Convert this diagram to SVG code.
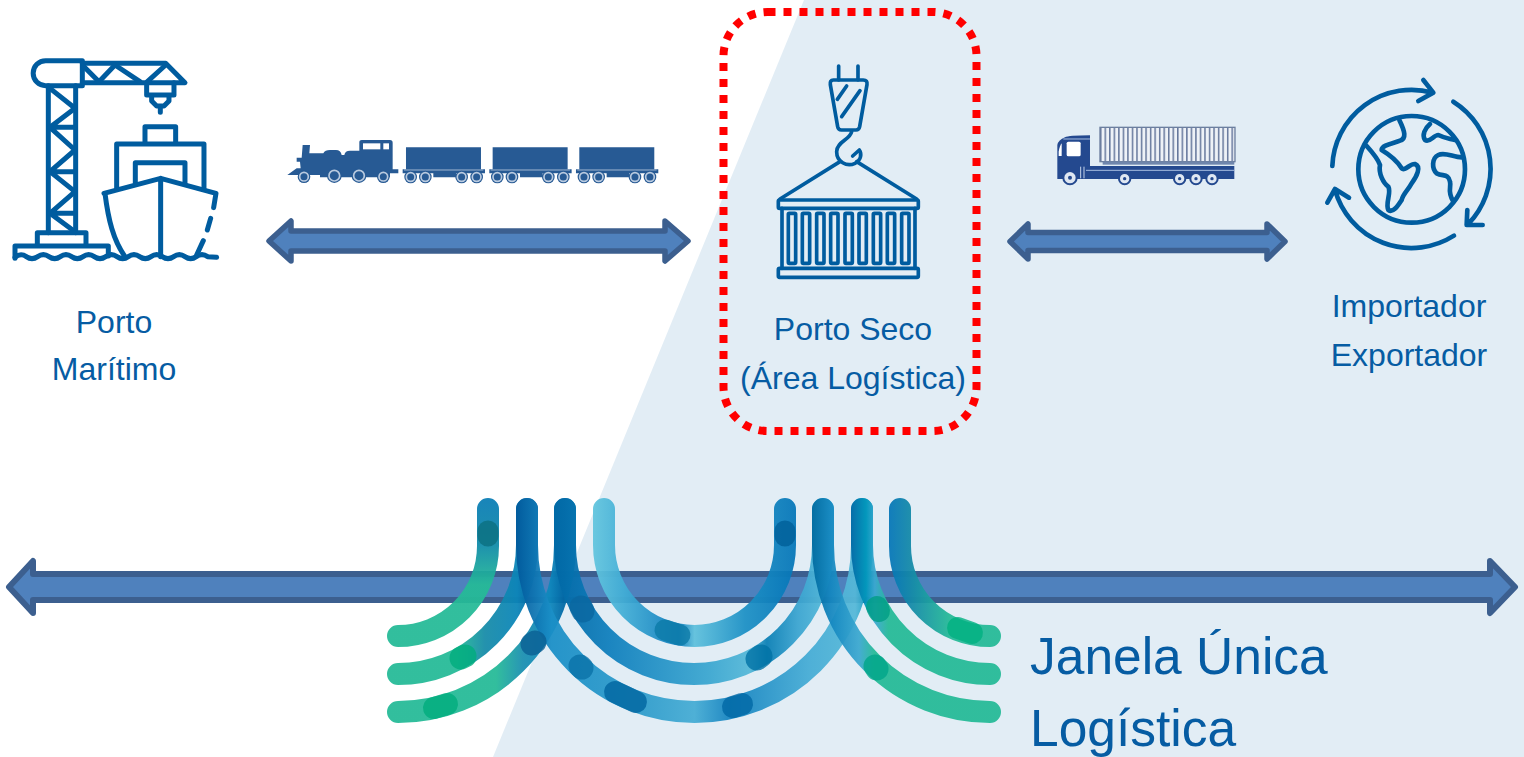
<svg xmlns="http://www.w3.org/2000/svg" width="1524" height="757" viewBox="0 0 1524 757">
<style>
.t{font-family:"Liberation Sans",Arial,sans-serif;fill:#065ca3;text-anchor:middle}
.ic{fill:none;stroke:#005c9f;stroke-linejoin:round;stroke-linecap:round}
.dbl{fill:#4f81bd;stroke:#3c5f8f;stroke-linejoin:round}
.rb{fill:none;stroke-width:22;stroke-linecap:round;opacity:.94}
.sp{fill:none;stroke-width:23;stroke-linecap:round;opacity:.8}
.tr{fill:#275a94}
.wh{fill:#275a94;stroke:#b9cadf;stroke-width:5}
.wo{fill:#275a94}
.wk{fill:#dfe7f2;stroke:#24498f;stroke-width:6}
</style>
<defs>
<linearGradient id="gA" gradientUnits="userSpaceOnUse" x1="0" y1="499" x2="0" y2="600"><stop offset="0" stop-color="#0a7db5"/><stop offset=".45" stop-color="#0f8aa8"/><stop offset=".85" stop-color="#25ba97"/></linearGradient>
<linearGradient id="gB" gradientUnits="userSpaceOnUse" x1="398" y1="0" x2="538" y2="0"><stop offset="0" stop-color="#25ba97"/><stop offset=".42" stop-color="#25ba97"/><stop offset=".62" stop-color="#168ba8"/><stop offset=".85" stop-color="#0a85b8"/><stop offset="1" stop-color="#00589b"/></linearGradient>
<linearGradient id="gC" gradientUnits="userSpaceOnUse" x1="398" y1="0" x2="576" y2="0"><stop offset="0" stop-color="#25ba97"/><stop offset=".55" stop-color="#25ba97"/><stop offset=".7" stop-color="#1a8fb0"/><stop offset=".85" stop-color="#0d88bd"/><stop offset=".93" stop-color="#0068a5"/><stop offset="1" stop-color="#0090b8"/></linearGradient>
<linearGradient id="gU1" gradientUnits="userSpaceOnUse" x1="516" y1="0" x2="873" y2="0"><stop offset="0" stop-color="#00589b"/><stop offset=".1" stop-color="#1a8fc7"/><stop offset=".35" stop-color="#2f9ccb"/><stop offset=".5" stop-color="#45acd4"/><stop offset=".6" stop-color="#1583c0"/><stop offset=".82" stop-color="#45acd5"/><stop offset=".95" stop-color="#55b8d8"/><stop offset="1" stop-color="#0090b8"/></linearGradient>
<linearGradient id="gU2" gradientUnits="userSpaceOnUse" x1="554" y1="0" x2="834" y2="0"><stop offset="0" stop-color="#0068a5"/><stop offset=".2" stop-color="#0f7fbd"/><stop offset=".55" stop-color="#3aa6d0"/><stop offset=".7" stop-color="#55b8d8"/><stop offset=".76" stop-color="#0a7fb5"/><stop offset=".87" stop-color="#3aa4d0"/><stop offset="1" stop-color="#5cc0dc"/></linearGradient>
<linearGradient id="gU3" gradientUnits="userSpaceOnUse" x1="593" y1="0" x2="796" y2="0"><stop offset="0" stop-color="#62c5de"/><stop offset=".15" stop-color="#42aed6"/><stop offset=".42" stop-color="#0f7dbd"/><stop offset=".5" stop-color="#5ec0dc"/><stop offset=".75" stop-color="#1c90c5"/><stop offset="1" stop-color="#0576b8"/></linearGradient>
<linearGradient id="gD" gradientUnits="userSpaceOnUse" x1="889" y1="0" x2="1000" y2="0"><stop offset="0" stop-color="#0576b8"/><stop offset=".2" stop-color="#148aa8"/><stop offset=".55" stop-color="#25ba97"/><stop offset="1" stop-color="#25ba97"/></linearGradient>
<linearGradient id="gE" gradientUnits="userSpaceOnUse" x1="851" y1="0" x2="1000" y2="0"><stop offset="0" stop-color="#0068a5"/><stop offset=".1" stop-color="#0096bb"/><stop offset=".16" stop-color="#3ba8d0"/><stop offset=".25" stop-color="#25ba97"/><stop offset="1" stop-color="#25ba97"/></linearGradient>
<linearGradient id="gF" gradientUnits="userSpaceOnUse" x1="812" y1="0" x2="1000" y2="0"><stop offset="0" stop-color="#006a9f"/><stop offset=".1" stop-color="#1487c0"/><stop offset=".25" stop-color="#3ba8d0"/><stop offset=".33" stop-color="#25ba97"/><stop offset="1" stop-color="#25ba97"/></linearGradient>
<pattern id="stripe" patternUnits="userSpaceOnUse" x="300" y="0" width="13.600" height="10"><rect width="13.600" height="10" fill="#eef2f7"/><rect width="4.500" height="10" fill="#66789c"/></pattern>
<g id="vagao"><path class="tr" d="M378 82 H603 V148 H615 V160 H528 V172 H460 V160 H368 V148 H378 Z"/><path d="M372 150 H610" stroke="#b9cadf" stroke-width="2.500" fill="none"/><g class="wo"><circle cx="392" cy="171" r="19"/><circle cx="436" cy="171" r="19"/><circle cx="545" cy="171" r="19"/><circle cx="590" cy="171" r="19"/></g><g class="wh"><circle cx="392" cy="171" r="13"/><circle cx="436" cy="171" r="13"/><circle cx="545" cy="171" r="13"/><circle cx="590" cy="171" r="13"/></g></g>
</defs>

<rect id="fundo" width="1524" height="757" fill="#fff"/>
<polygon id="area-clara" points="804,0 1524,0 1524,757 493,757" fill="#e2edf5"/>

<g id="connectors">
<path class="dbl" stroke-width="5.500" d="M269 241 L291 221 V231 H665 V221 L688 241 L665 261 V251 H291 V261 Z"/>
<path class="dbl" stroke-width="5.500" d="M1010 241.500 L1028 224 V232.500 H1267 V224 L1285 241.500 L1267 259 V250.500 H1028 V259 Z"/>
<path id="barra" class="dbl" stroke-width="6" d="M9 587 L33 561 V574 H1490 V561 L1515 587 L1490 613 V600 H33 V613 Z"/>
</g>

<g id="porto-maritimo">
<g class="ic" stroke-width="15" transform="translate(0,40) scale(.3333)">
<path d="M247 62 H137 A37.500 37.500 0 0 0 137 137 H247 Z"/>
<path d="M247 70 H497 L555 128 H247"/>
<path d="M250 78 L297 125 L345 75 L420 125 M442 125 L497 75"/>
<path d="M440 128 V165 H522 V128 M455 165 V183 L470 198 H492 L507 183 V165 M481 198 V217"/>
<path d="M145 137 V578 M227 137 V578"/>
<path d="M150 145 L225 205 L150 262 L225 330 L150 395 L225 455 L150 520 L225 575 M150 262 H225 M150 395 H225 M150 520 H225"/>
<path d="M112 612 V578 H258 V612"/>
<path d="M45 655 V618 H325 V648"/>
<path d="M45 652 Q62 638 79 650 T113 650 T147 650 T181 650 T215 650 T249 650 T283 650 T317 650 T351 650 T385 650 T419 650 T453 650 T487 650 T521 650 T555 650 T589 650 T623 650 L650 652"/>
<path d="M435 310 V260 H527 V310 M350 445 V312 H612 V445 M406 430 V368 H555 V430"/>
<path d="M312 460 L482 415 L648 460 L641 503 M632 535 L622 570 M610 602 L590 645 M482 415 V650 M315 460 C325 540 340 600 375 650"/>
</g>
<text class="t" font-size="32" x="114" y="333">Porto</text>
<text class="t" font-size="32" x="114" y="380">Marítimo</text>
</g>

<g id="trem" transform="translate(280,120) scale(.3333)">
<path class="tr" d="M22 165 L50 145 H62 L60 125 H50 V113 H65 L68 75 H90 L88 100 H130 Q135 90 150 90 H168 Q182 90 185 105 H193 Q195 92 210 92 H238 V65 Q238 60 245 60 H330 Q338 60 338 68 V148 H355 V160 H330 V172 H120 V165 Z"/>
<rect x="249" y="70" width="52" height="18" fill="#fff"/><rect x="310" y="70" width="17" height="18" fill="#fff"/>
<g class="wo"><circle cx="72" cy="170" r="19"/><circle cx="163" cy="167" r="22"/><circle cx="237" cy="167" r="22"/><circle cx="310" cy="170" r="19"/></g>
<g class="wh"><circle cx="72" cy="170" r="13"/><circle cx="163" cy="167" r="16"/><circle cx="237" cy="167" r="16"/><circle cx="310" cy="170" r="13"/></g>
<use href="#vagao"/>
<use href="#vagao" x="260"/>
<use href="#vagao" x="520"/>
</g>

<g id="porto-seco">
<g class="ic" stroke-width="11" transform="translate(760,50) scale(.3333)">
<path d="M236 48 V90 M294 48 V90"/>
<path d="M220 90 H310 Q323 90 321 104 L299 230 Q297 240 288 240 H244 Q235 240 233 230 L211 104 Q209 90 220 90 Z"/>
<path d="M232 148 L260 108 M245 200 L300 122"/>
<path d="M275 245 C270 270 230 275 230 305 C230 335 260 352 285 340 C305 330 305 310 298 300 L278 318"/>
<path d="M60 447 L240 335 M290 335 L470 447"/>
<rect x="55" y="450" width="420" height="25" rx="4"/>
<path d="M66 475 V655 M465 475 V655"/>
<rect x="55" y="655" width="420" height="27" rx="4"/>
<rect x="85" y="490" width="22" height="150" rx="3"/><rect x="127" y="490" width="22" height="150" rx="3"/><rect x="170" y="490" width="22" height="150" rx="3"/><rect x="212" y="490" width="22" height="150" rx="3"/><rect x="255" y="490" width="22" height="150" rx="3"/><rect x="297" y="490" width="22" height="150" rx="3"/><rect x="340" y="490" width="22" height="150" rx="3"/><rect x="382" y="490" width="22" height="150" rx="3"/><rect x="425" y="490" width="22" height="150" rx="3"/>
</g>
<text class="t" font-size="32" x="853" y="340">Porto Seco</text>
<text class="t" font-size="32" x="853" y="389">(Área Logística)</text>
<rect x="723.500" y="12" width="253" height="419" rx="44" fill="none" stroke="#ff0000" stroke-width="8" stroke-dasharray="8 8"/>
</g>

<g id="caminhao" transform="translate(1000,110) scale(.3333)">
<rect x="300" y="52" width="405" height="103" fill="url(#stripe)" stroke="#6c7f9f" stroke-width="4"/>
<rect x="308" y="155" width="395" height="9" fill="#6f86ad"/>
<path fill="#24498f" d="M172 195 V105 Q175 90 195 82 Q205 76 270 76 V168 H703 V207 H172 Z"/>
<rect x="200" y="95" width="42" height="44" rx="5" fill="#fff"/>
<path d="M185 138 V100 Q180 105 176 125 V138 Z" fill="#fff"/>
<path d="M190 87 H270 M258 181 H703" stroke="#a9c0e2" stroke-width="3" fill="none"/>
<path d="M242 170 V205 M252 170 V205" stroke="#c6d4ea" stroke-width="3" fill="none"/>
<g class="wk"><circle cx="210" cy="203" r="20"/><circle cx="374" cy="206" r="17"/><circle cx="539" cy="206" r="17"/><circle cx="588" cy="206" r="17"/><circle cx="636" cy="206" r="17"/></g>
<g fill="#24498f"><circle cx="210" cy="203" r="6"/><circle cx="374" cy="206" r="5"/><circle cx="539" cy="206" r="5"/><circle cx="588" cy="206" r="5"/><circle cx="636" cy="206" r="5"/></g>
</g>

<g id="importador-exportador">
<g class="ic" stroke-width="14" transform="translate(1310,70) scale(.3333)">
<circle cx="305" cy="298" r="160"/>
<path d="M268 150 C285 185 290 205 270 212 C250 220 215 225 215 240 C240 255 260 270 275 295 C285 305 300 280 315 282 C335 290 320 320 305 340 C295 360 280 370 275 390 C265 405 250 430 235 420 C225 400 245 370 235 350 C220 340 205 310 210 285 C205 270 190 250 170 228"/>
<path d="M360 162 C345 175 335 195 345 210 C360 220 370 195 385 195 C405 205 415 205 435 210"/>
<path d="M455 262 C430 262 405 245 385 255 C365 265 365 295 380 310 C400 320 415 310 420 335 C425 355 410 360 430 395"/>
<path d="M67 288 A238 238 0 0 1 368 68 M340 30 L370 68 L325 93"/>
<path d="M430 95 A238 238 0 0 1 475 462 M472 420 L470 465 L518 465"/>
<path d="M432 497 A238 238 0 0 1 75 360 M52 398 L75 357 L117 383"/>
</g>
<text class="t" font-size="32" x="1409" y="317">Importador</text>
<text class="t" font-size="32" x="1409" y="366">Exportador</text>
</g>

<g id="janela-unica">
<g id="fitas">
<path class="rb" stroke="url(#gA)" d="M488 509 V546 A90 90 0 0 1 398 636"/>
<path class="rb" stroke="url(#gB)" d="M527 509 V545 A129 129 0 0 1 398 674"/>
<path class="rb" stroke="url(#gC)" d="M565 509 V545 A167 167 0 0 1 398 712"/>
<path class="rb" stroke="url(#gU3)" d="M604 509 V545 A90.500 91 0 0 0 785 545 V509"/>
<path class="rb" stroke="url(#gU2)" d="M565 509 V545 A129 129 0 0 0 823 545 V509"/>
<path class="rb" stroke="url(#gU1)" d="M527 509 V545 A167.500 167 0 0 0 862 545 V509"/>
<path class="rb" stroke="url(#gD)" d="M900 509 V546 A90 90 0 0 0 990 636"/>
<path class="rb" stroke="url(#gE)" d="M862 509 V545 A128 129 0 0 0 990 674"/>
<path class="rb" stroke="url(#gF)" d="M823 509 V545 A167 167 0 0 0 990 712"/>
</g>
<g id="sobreposicoes">
<path class="sp" style="stroke-width:21" stroke="#0b6f80" d="M488 531 V536"/>
<path class="sp" stroke="#00ac7d" d="M461 658 L465 656"/>
<path class="sp" style="stroke-width:22" stroke="#00ac7d" d="M434 708 L447 704"/>
<path class="sp" stroke="#0a5f93" d="M532 644 L535 642"/>
<path class="sp" stroke="#0a66a0" d="M581 607 L583 611"/>
<path class="sp" stroke="#0a72a8" d="M580 666 L582 668"/>
<path class="sp" style="stroke-width:22" stroke="#0065a0" d="M615 692 L636 702"/>
<path class="sp" style="stroke-width:21" stroke="#0b7aa8" d="M665 630 L680 635"/>
<path class="sp" style="stroke-width:21" stroke="#005f98" d="M785 531 V536"/>
<path class="sp" stroke="#0072a5" d="M757 659 L761 656"/>
<path class="sp" style="stroke-width:22" stroke="#0068a5" d="M733 707 L742 704"/>
<path class="sp" style="stroke-width:22" stroke="#009d85" d="M877 607 L879 611"/>
<path class="sp" stroke="#00a58a" d="M875 666 L877 669"/>
<path class="sp" style="stroke-width:22" stroke="#00b081" d="M958 628 L972 633"/>
</g>
<text class="t" font-size="51.500" x="1030" y="674" style="text-anchor:start">Janela Única</text>
<text class="t" font-size="51.500" x="1030" y="746" style="text-anchor:start">Logística</text>
</g>
</svg>
